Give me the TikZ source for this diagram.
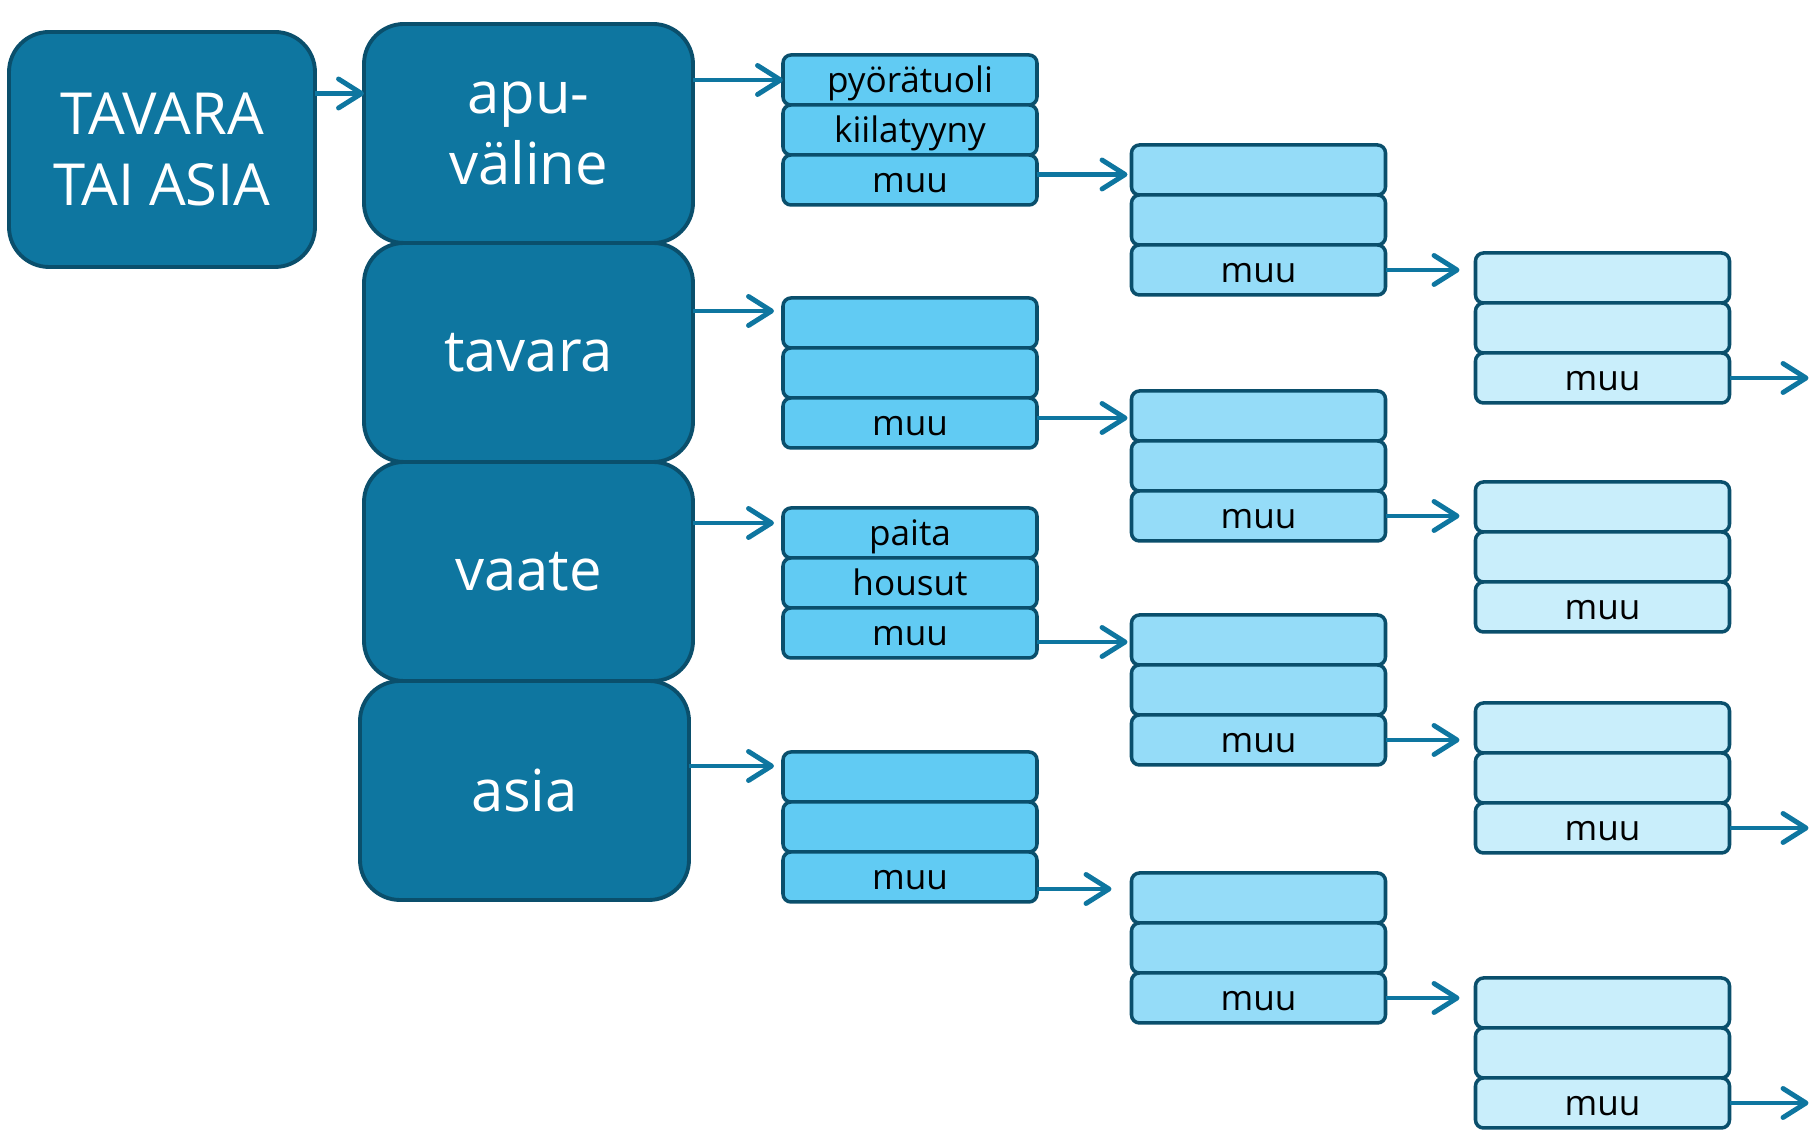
\documentclass[tikz,border=0pt]{standalone}
\usepackage{fontspec}
\setmainfont{Open Sans}
\usetikzlibrary{arrows.meta, positioning}

\definecolor{tdark}{HTML}{0E76A0}
\definecolor{tborder}{HTML}{0A4F6C}
\definecolor{tlev1}{HTML}{61CBF3}
\definecolor{tlev2}{HTML}{95DCF8}
\definecolor{tlev3}{HTML}{C9EEFB}

\begin{document}
\begin{tikzpicture}[
		bigbox/.style={rectangle,draw=tborder,fill=tdark,line width=1.1pt,outer sep=0pt,rounded corners=0.4cm,minimum width=3.29cm,minimum height=2.19cm,text=white,align=center,font=\fontsize{16.5}{21.5}\selectfont},
		row/.style={rectangle,draw=tborder,line width=1pt,outer sep=0pt,rounded corners=0.08cm,minimum width=2.54cm,minimum height=0.5cm,inner sep=0pt,text height=1.7ex,text depth=0.35ex,font=\fontsize{10}{12}\selectfont},
		rowA/.style={row,fill=tlev1},
		rowB/.style={row,fill=tlev2},
		rowC/.style={row,fill=tlev3},
		arr/.style={draw=tdark,line width=1.4pt,-{Straight Barb[round,length=2.3mm,width=2.9mm]}}
	]
		\useasboundingbox (0,0) rectangle (18.2,-11.3);
		
		\node[bigbox,minimum width=3.06cm,minimum height=2.35cm] (root) at (1.62,-1.495) {\raisebox{-0.5mm}{TAVARA}\\TAI ASIA};
		
		\node[bigbox] (apu) at (5.285,-1.335) {\raisebox{-1mm}{apu-}\\\raisebox{-0.5mm}{väline}};
		\node[bigbox, below=0pt of apu] (tav) {tavara};
		\node[bigbox, below=0pt of tav] (vaa) {vaate};
		\node[bigbox, below=0pt of vaa, xshift=-0.04cm] (asi) {asia};
		
		% first column
		\node[rowA, anchor=north] (A11) at (9.10,-0.55) {pyörätuoli};
		\node[rowA, below=0pt of A11] (A12) {kiilatyyny};
		\node[rowA, below=0pt of A12] (A13) {muu};
		
		\node[rowA, anchor=north] (A21) at (9.10,-2.98) {};
		\node[rowA, below=0pt of A21] (A22) {};
		\node[rowA, below=0pt of A22] (A23) {muu};
		
		\node[rowA, anchor=north] (A31) at (9.10,-5.08) {paita};
		\node[rowA, below=0pt of A31] (A32) {housut};
		\node[rowA, below=0pt of A32] (A33) {muu};
		
		\node[rowA, anchor=north] (A41) at (9.10,-7.52) {};
		\node[rowA, below=0pt of A41] (A42) {};
		\node[rowA, below=0pt of A42] (A43) {muu};
		
		% second column
		\node[rowB, anchor=north] (B11) at (12.585,-1.45) {};
		\node[rowB, below=0pt of B11] (B12) {};
		\node[rowB, below=0pt of B12] (B13) {muu};
		
		\node[rowB, anchor=north] (B21) at (12.585,-3.91) {};
		\node[rowB, below=0pt of B21] (B22) {};
		\node[rowB, below=0pt of B22] (B23) {muu};
		
		\node[rowB, anchor=north] (B31) at (12.585,-6.15) {};
		\node[rowB, below=0pt of B31] (B32) {};
		\node[rowB, below=0pt of B32] (B33) {muu};
		
		\node[rowB, anchor=north] (B41) at (12.585,-8.73) {};
		\node[rowB, below=0pt of B41] (B42) {};
		\node[rowB, below=0pt of B42] (B43) {muu};
		
		% third column
		\node[rowC, anchor=north] (C11) at (16.025,-2.53) {};
		\node[rowC, below=0pt of C11] (C12) {};
		\node[rowC, below=0pt of C12] (C13) {muu};
		
		\node[rowC, anchor=north] (C21) at (16.025,-4.82) {};
		\node[rowC, below=0pt of C21] (C22) {};
		\node[rowC, below=0pt of C22] (C23) {muu};
		
		\node[rowC, anchor=north] (C31) at (16.025,-7.03) {};
		\node[rowC, below=0pt of C31] (C32) {};
		\node[rowC, below=0pt of C32] (C33) {muu};
		
		\node[rowC, anchor=north] (C41) at (16.025,-9.78) {};
		\node[rowC, below=0pt of C41] (C42) {};
		\node[rowC, below=0pt of C42] (C43) {muu};
		
		\coordinate (out1) at ([xshift=0.79cm]C13.east);
		\coordinate (out3) at ([xshift=0.79cm]C33.east);
		\coordinate (out4) at ([xshift=0.79cm]C43.east);
		
		\draw[arr] ([yshift=5.6mm]root.east) -- ([yshift=5.6mm]root.east -| apu.west);
		
		\draw[arr] (apu.east |- A11.west) -- (A11.west);
		\draw[arr,shorten >=0.9mm] ([yshift=1.2mm]tav.east |- A21.west) -- ([yshift=1.2mm]A21.west);
		\draw[arr,shorten >=0.9mm] ([yshift=1mm]vaa.east |- A31.west) -- ([yshift=1mm]A31.west);
		\draw[arr,shorten >=0.9mm] ([yshift=1.1mm]asi.east |- A41.west) -- ([yshift=1.1mm]A41.west);
		
		\draw[arr,shorten >=0.4mm] ([yshift=0.55mm]A13.east) -- ([yshift=0.55mm]A13.east -| B11.west);
		\draw[arr,shorten >=0.4mm] ([yshift=0.5mm]A23.east) -- ([yshift=0.5mm]A23.east -| B21.west);
		\draw[arr,shorten >=0.4mm] ([yshift=-0.9mm]A33.east) -- ([yshift=-0.9mm]A33.east -| B31.west);
		\draw[arr,shorten >=2mm] ([yshift=-1.2mm]A43.east) -- ([yshift=-1.2mm]A43.east -| B41.west);
		
		\draw[arr,shorten >=1.6mm] (B13.east) -- (B13.east -| C11.west);
		\draw[arr,shorten >=1.6mm] (B23.east) -- (B23.east -| C21.west);
		\draw[arr,shorten >=1.6mm] (B33.east) -- (B33.east -| C31.west);
		\draw[arr,shorten >=1.6mm] (B43.east) -- (B43.east -| C41.west);
		
		\draw[arr] (C13.east) -- (out1);
		\draw[arr] (C33.east) -- (out3);
		\draw[arr] (C43.east) -- (out4);
	\end{tikzpicture}
\end{document}
